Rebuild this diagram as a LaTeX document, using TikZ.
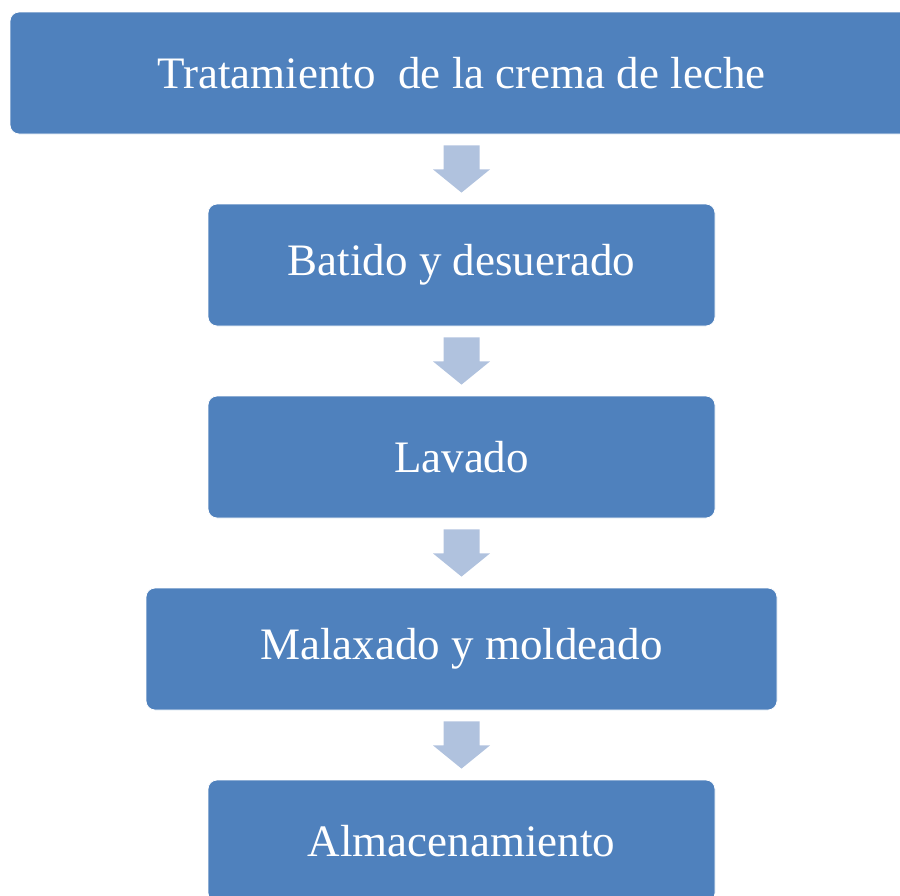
\documentclass[tikz,border=0pt]{standalone}
\usepackage{fontspec}
\setmainfont{Liberation Serif}
\usetikzlibrary{calc}
\definecolor{boxblue}{HTML}{4F81BD}
\definecolor{arrblue}{HTML}{B0C2DE}
\begin{document}
\begin{tikzpicture}[x=1pt,y=-1pt,
  stepbox/.style={draw=white,line width=0.8pt,fill=boxblue,rounded corners=9pt,text=white,
    font=\fontsize{45}{50}\selectfont,inner sep=0pt,minimum height=122pt,minimum width=507pt},
  widebox/.style={stepbox,minimum width=631pt},
  topbox/.style={stepbox,minimum width=903pt}]
\useasboundingbox (0,0) rectangle (900,895);
\begin{scope}
\clip (0,0) rectangle (900,895);
\node[topbox] (t1) at (461.5,73) {Tratamiento\ \ de la crema de leche};
\node[stepbox] (t2) at (461.5,265) {Batido y desuerado};
\node[stepbox] (t3) at (461.5,457) {Lavado};
\node[widebox] (t4) at (461.5,649) {Malaxado y moldeado};
\node[stepbox] (t5) at (461.5,841) {Almacenamiento};
\foreach \a/\b in {t1/t2,t2/t3,t3/t4,t4/t5}{
  \coordinate (s) at ($(\a.south)+(0,11)$);
  \fill[arrblue] ($(s)+(-18,0)$) -- ($(s)+(18,0)$) -- ($(s)+(18,24)$) -- ($(s)+(28.5,24)$)
     -- ($(\b.north)+(0,-11)$) -- ($(s)+(-28.5,24)$) -- ($(s)+(-18,24)$) -- cycle;
}
\end{scope}
\end{tikzpicture}
\end{document}
